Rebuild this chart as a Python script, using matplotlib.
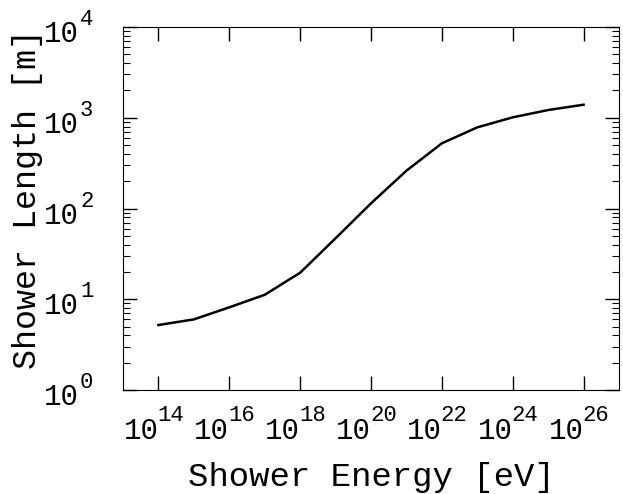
import numpy as np
import matplotlib
matplotlib.use("Agg")
import matplotlib.pyplot as plt
from matplotlib.ticker import NullLocator

plt.rcParams['font.family'] = ['Liberation Mono', 'DejaVu Sans Mono']

# shower energy [eV] and length [m]
energy = [1e14, 1e15, 1e16, 1e17, 1e18, 1e19, 1e20, 1e21, 1e22, 1e23, 1e24, 1e25, 1e26]
length = [5.2, 6.0, 8.15, 11.2, 19.6, 47, 114, 261, 523, 784, 1011, 1217, 1393]
xticks = [1e14, 1e16, 1e18, 1e20, 1e22, 1e24, 1e26]
yticks = [1e0, 1e1, 1e2, 1e3, 1e4]

fig = plt.figure(figsize=(6.23, 4.94), dpi=100)
ax = fig.add_axes([0.1974, 0.2105, 0.7962, 0.7348])

ax.plot(energy, length, color="black", lw=1.8)
ax.set_xscale("log")
ax.set_yscale("log")
ax.set_xlim(1e13, 1e27)
ax.set_ylim(1e0, 1e4)

ax.set_xticks(xticks)
ax.set_yticks(yticks)
ax.xaxis.set_minor_locator(NullLocator())
ax.tick_params(which="both", direction="in", top=True, right=True,
               labelbottom=False, labelleft=False)
ax.tick_params(which="major", length=10, width=1)
ax.tick_params(which="minor", length=5, width=0.8)

# tick labels drawn as "10" plus a raised exponent, like the original
base_fs, exp_fs = 21, 16
for t in xticks:
    e = int(round(np.log10(t)))
    ax.annotate("10", xy=(t, 0), xycoords=("data", "axes fraction"),
                xytext=(0, -49), textcoords="offset pixels",
                ha="right", va="baseline", fontsize=base_fs)
    ax.annotate(str(e), xy=(t, 0), xycoords=("data", "axes fraction"),
                xytext=(-1, -31), textcoords="offset pixels",
                ha="left", va="baseline", fontsize=exp_fs)
for t in yticks:
    e = int(round(np.log10(t)))
    ax.annotate("10", xy=(0, t), xycoords=("axes fraction", "data"),
                xytext=(-44, -15), textcoords="offset pixels",
                ha="right", va="baseline", fontsize=base_fs)
    ax.annotate(str(e), xy=(0, t), xycoords=("axes fraction", "data"),
                xytext=(-43, 2), textcoords="offset pixels",
                ha="left", va="baseline", fontsize=exp_fs)

ax.set_xlabel("Shower Energy [eV]", fontsize=24.5)
ax.xaxis.set_label_coords(0.5, -0.242)
ax.xaxis.label.set_va("center")
ax.set_ylabel("Shower Length [m]", fontsize=24)
ax.yaxis.set_label_coords(-0.1915, 0.5275)
ax.yaxis.label.set_va("center")

fig.savefig("out.png")
